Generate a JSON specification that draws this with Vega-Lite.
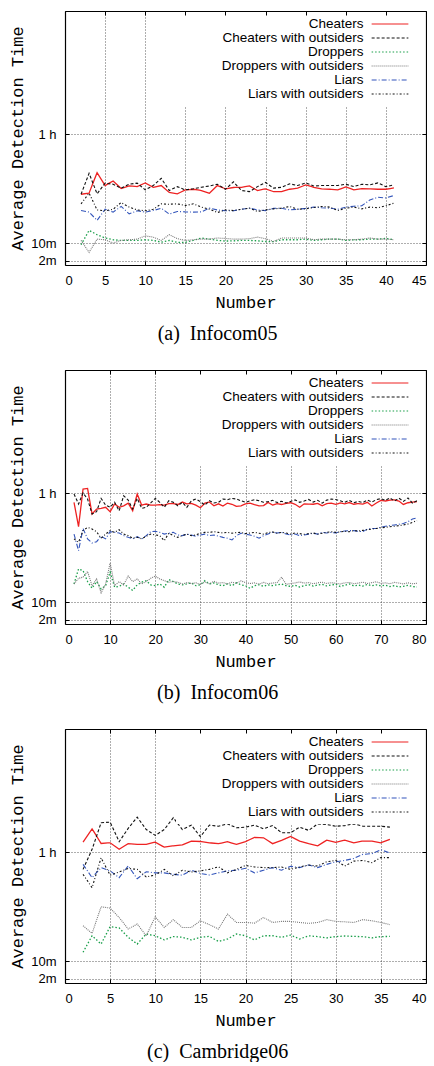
{
"$schema":"https://vega.github.io/schema/vega-lite/v6.json",
"padding":{"left":8,"top":10,"right":0,"bottom":0},
"spacing":25,
"config":{
 "view":{"stroke":null},
 "font":"Liberation Sans",
 "axis":{"labelFont":"Liberation Sans","labelFontSize":13,"labelColor":"#000","titleFont":"Liberation Mono","titleFontSize":17,"titleFontWeight":"normal","titleColor":"#000","domainColor":"#000","domainWidth":1.2,"tickColor":"#000","tickSize":-4,"tickWidth":1,"grid":true,"gridColor":"#333","gridDash":[1,2],"gridWidth":0.8},
 "axisBottom":{"labelPadding":13,"titlePadding":7},
 "axisLeft":{"labelPadding":13,"titlePadding":4},
 "legend":{"orient":"top-right","offset":1,"padding":5,"fillColor":"#fff","labelFont":"Liberation Sans","labelFontSize":13.5,"labelColor":"#000","labelAlign":"right","labelOffset":-33.5,"symbolOffset":202,"symbolType":"M-3,0L3,0","symbolSize":150,"symbolStrokeWidth":1.4,"rowPadding":-2.3,"zindex":1,"titleOrient":"right","titleFontSize":1,"titlePadding":9,"labelLimit":400},
 "title":{"font":"Liberation Serif","fontSize":20,"fontWeight":"normal","color":"#000","orient":"bottom","anchor":"middle","frame":"bounds","offset":14},
 "line":{"strokeWidth":1.1}
},
"datasets":{
"a1":[{"x":2,"y":32.5},{"x":3,"y":33.0},{"x":4,"y":42.4},{"x":5,"y":36.5},{"x":6,"y":38.6},{"x":7,"y":35.1},{"x":8,"y":36.3},{"x":9,"y":36.0},{"x":10,"y":37.7},{"x":11,"y":35.7},{"x":12,"y":36.5},{"x":13,"y":33.3},{"x":14,"y":32.7},{"x":15,"y":34.5},{"x":16,"y":34.8},{"x":17,"y":34.2},{"x":18,"y":33.0},{"x":19,"y":36.5},{"x":20,"y":35.0},{"x":21,"y":35.6},{"x":22,"y":35.7},{"x":23,"y":36.3},{"x":24,"y":34.2},{"x":25,"y":35.0},{"x":26,"y":33.7},{"x":27,"y":33.7},{"x":28,"y":34.8},{"x":29,"y":35.3},{"x":30,"y":36.8},{"x":31,"y":35.7},{"x":32,"y":35.0},{"x":33,"y":34.8},{"x":34,"y":34.5},{"x":35,"y":35.9},{"x":36,"y":34.5},{"x":37,"y":35.1},{"x":38,"y":35.0},{"x":39,"y":34.8},{"x":40,"y":34.8},{"x":41,"y":35.4}],
"a2":[{"x":2,"y":32.5},{"x":3,"y":42.1},{"x":4,"y":32.7},{"x":5,"y":37.6},{"x":6,"y":37.1},{"x":7,"y":35.3},{"x":8,"y":37.1},{"x":9,"y":37.6},{"x":10,"y":34.5},{"x":11,"y":36.5},{"x":12,"y":39.8},{"x":13,"y":34.2},{"x":14,"y":36.0},{"x":15,"y":34.5},{"x":16,"y":35.0},{"x":17,"y":35.7},{"x":18,"y":36.3},{"x":19,"y":37.1},{"x":20,"y":34.8},{"x":21,"y":38.2},{"x":22,"y":34.2},{"x":23,"y":33.7},{"x":24,"y":36.0},{"x":25,"y":37.9},{"x":26,"y":35.3},{"x":27,"y":35.7},{"x":28,"y":37.3},{"x":29,"y":36.5},{"x":30,"y":37.7},{"x":31,"y":36.3},{"x":32,"y":36.5},{"x":33,"y":36.5},{"x":34,"y":36.5},{"x":35,"y":37.1},{"x":36,"y":36.0},{"x":37,"y":37.1},{"x":38,"y":36.8},{"x":39,"y":37.7},{"x":40,"y":36.0},{"x":41,"y":36.8}],
"a3":[{"x":2,"y":9.3},{"x":3,"y":15.9},{"x":4,"y":13.9},{"x":5,"y":12.4},{"x":6,"y":11.6},{"x":7,"y":11.3},{"x":8,"y":11.3},{"x":9,"y":11.3},{"x":10,"y":11.6},{"x":11,"y":11.3},{"x":12,"y":10.5},{"x":13,"y":11.3},{"x":14,"y":10.4},{"x":15,"y":10.4},{"x":16,"y":11.3},{"x":17,"y":12.4},{"x":18,"y":11.9},{"x":19,"y":11.3},{"x":20,"y":11.0},{"x":21,"y":11.1},{"x":22,"y":11.3},{"x":23,"y":11.3},{"x":24,"y":11.1},{"x":25,"y":10.8},{"x":26,"y":10.7},{"x":27,"y":11.6},{"x":28,"y":11.6},{"x":29,"y":11.6},{"x":30,"y":11.9},{"x":31,"y":11.3},{"x":32,"y":11.6},{"x":33,"y":11.9},{"x":34,"y":11.9},{"x":35,"y":11.3},{"x":36,"y":11.6},{"x":37,"y":11.6},{"x":38,"y":11.9},{"x":39,"y":11.9},{"x":40,"y":12.2},{"x":41,"y":11.6}],
"a4":[{"x":2,"y":11.3},{"x":3,"y":5.8},{"x":4,"y":11.9},{"x":5,"y":11.6},{"x":6,"y":10.1},{"x":7,"y":11.3},{"x":8,"y":11.6},{"x":9,"y":11.9},{"x":10,"y":13.4},{"x":11,"y":12.8},{"x":12,"y":11.3},{"x":13,"y":13.9},{"x":14,"y":12.1},{"x":15,"y":11.3},{"x":16,"y":11.6},{"x":17,"y":11.9},{"x":18,"y":11.9},{"x":19,"y":12.4},{"x":20,"y":12.2},{"x":21,"y":11.9},{"x":22,"y":11.9},{"x":23,"y":12.1},{"x":24,"y":12.8},{"x":25,"y":12.1},{"x":26,"y":10.8},{"x":27,"y":12.4},{"x":28,"y":12.4},{"x":29,"y":12.4},{"x":30,"y":12.4},{"x":31,"y":11.6},{"x":32,"y":11.9},{"x":33,"y":11.9},{"x":34,"y":11.9},{"x":35,"y":11.6},{"x":36,"y":11.6},{"x":37,"y":11.9},{"x":38,"y":12.4},{"x":39,"y":11.9},{"x":40,"y":11.9},{"x":41,"y":11.6}],
"a5":[{"x":2,"y":25.0},{"x":3,"y":24.3},{"x":4,"y":20.5},{"x":5,"y":25.6},{"x":6,"y":24.3},{"x":7,"y":26.9},{"x":8,"y":23.5},{"x":9,"y":24.9},{"x":10,"y":24.3},{"x":11,"y":25.0},{"x":12,"y":26.1},{"x":13,"y":23.4},{"x":14,"y":24.6},{"x":15,"y":24.4},{"x":16,"y":24.3},{"x":17,"y":24.4},{"x":18,"y":26.1},{"x":19,"y":25.3},{"x":20,"y":24.9},{"x":21,"y":24.9},{"x":22,"y":25.6},{"x":23,"y":26.1},{"x":24,"y":25.3},{"x":25,"y":25.0},{"x":26,"y":26.0},{"x":27,"y":26.1},{"x":28,"y":25.3},{"x":29,"y":25.6},{"x":30,"y":26.0},{"x":31,"y":26.6},{"x":32,"y":26.3},{"x":33,"y":26.1},{"x":34,"y":25.6},{"x":35,"y":26.6},{"x":36,"y":27.0},{"x":37,"y":27.2},{"x":38,"y":29.9},{"x":39,"y":31.1},{"x":40,"y":30.8},{"x":41,"y":31.9}],
"a6":[{"x":2,"y":28.1},{"x":3,"y":33.0},{"x":4,"y":25.3},{"x":5,"y":24.9},{"x":6,"y":25.6},{"x":7,"y":28.7},{"x":8,"y":26.6},{"x":9,"y":25.3},{"x":10,"y":24.9},{"x":11,"y":25.6},{"x":12,"y":28.1},{"x":13,"y":27.9},{"x":14,"y":28.1},{"x":15,"y":27.3},{"x":16,"y":28.1},{"x":17,"y":26.6},{"x":18,"y":25.6},{"x":19,"y":24.1},{"x":20,"y":25.3},{"x":21,"y":25.0},{"x":22,"y":25.6},{"x":23,"y":26.1},{"x":24,"y":24.6},{"x":25,"y":25.3},{"x":26,"y":25.8},{"x":27,"y":26.1},{"x":28,"y":26.9},{"x":29,"y":25.6},{"x":30,"y":25.8},{"x":31,"y":26.4},{"x":32,"y":26.9},{"x":33,"y":26.6},{"x":34,"y":25.0},{"x":35,"y":26.1},{"x":36,"y":26.6},{"x":37,"y":25.8},{"x":38,"y":26.6},{"x":39,"y":26.3},{"x":40,"y":27.2},{"x":41,"y":28.4}],
"b1":[{"x":2,"y":55.9},{"x":3,"y":44.7},{"x":4,"y":62.0},{"x":5,"y":62.3},{"x":6,"y":50.5},{"x":7,"y":52.8},{"x":8,"y":53.1},{"x":9,"y":53.6},{"x":10,"y":51.6},{"x":11,"y":55.1},{"x":12,"y":53.6},{"x":13,"y":54.3},{"x":14,"y":55.5},{"x":15,"y":52.0},{"x":16,"y":59.7},{"x":17,"y":54.6},{"x":18,"y":55.1},{"x":19,"y":54.6},{"x":20,"y":54.6},{"x":21,"y":54.8},{"x":22,"y":54.6},{"x":23,"y":55.3},{"x":24,"y":55.3},{"x":25,"y":54.9},{"x":26,"y":56.0},{"x":27,"y":55.2},{"x":28,"y":55.4},{"x":29,"y":54.6},{"x":30,"y":53.4},{"x":31,"y":55.5},{"x":32,"y":56.0},{"x":33,"y":54.3},{"x":34,"y":55.2},{"x":35,"y":54.2},{"x":36,"y":55.5},{"x":37,"y":55.0},{"x":38,"y":54.0},{"x":39,"y":54.3},{"x":40,"y":55.2},{"x":41,"y":55.5},{"x":42,"y":54.8},{"x":43,"y":54.3},{"x":44,"y":54.4},{"x":45,"y":55.8},{"x":46,"y":54.6},{"x":47,"y":55.3},{"x":48,"y":54.9},{"x":49,"y":55.4},{"x":50,"y":55.7},{"x":51,"y":55.0},{"x":52,"y":53.6},{"x":53,"y":55.2},{"x":54,"y":55.1},{"x":55,"y":55.0},{"x":56,"y":55.4},{"x":57,"y":54.3},{"x":58,"y":55.3},{"x":59,"y":55.5},{"x":60,"y":55.0},{"x":61,"y":55.6},{"x":62,"y":55.2},{"x":63,"y":55.8},{"x":64,"y":55.0},{"x":65,"y":55.3},{"x":66,"y":55.1},{"x":67,"y":55.9},{"x":68,"y":54.2},{"x":69,"y":55.6},{"x":70,"y":56.8},{"x":71,"y":56.5},{"x":72,"y":56.9},{"x":73,"y":57.0},{"x":74,"y":56.5},{"x":75,"y":54.9},{"x":76,"y":55.7},{"x":77,"y":56.0},{"x":78,"y":56.2}],
"b2":[{"x":2,"y":59.7},{"x":3,"y":55.1},{"x":4,"y":60.2},{"x":5,"y":57.4},{"x":6,"y":50.5},{"x":7,"y":51.6},{"x":8,"y":57.7},{"x":9,"y":54.6},{"x":10,"y":53.6},{"x":11,"y":55.9},{"x":12,"y":52.0},{"x":13,"y":58.9},{"x":14,"y":56.9},{"x":15,"y":52.8},{"x":16,"y":57.7},{"x":17,"y":53.1},{"x":18,"y":53.6},{"x":19,"y":55.6},{"x":20,"y":57.7},{"x":21,"y":55.9},{"x":22,"y":53.6},{"x":23,"y":56.6},{"x":24,"y":55.9},{"x":25,"y":54.3},{"x":26,"y":55.9},{"x":27,"y":53.6},{"x":28,"y":56.6},{"x":29,"y":57.4},{"x":30,"y":56.2},{"x":31,"y":54.6},{"x":32,"y":56.6},{"x":33,"y":55.6},{"x":34,"y":55.9},{"x":35,"y":57.4},{"x":36,"y":57.1},{"x":37,"y":57.7},{"x":38,"y":57.4},{"x":39,"y":56.6},{"x":40,"y":55.9},{"x":41,"y":56.6},{"x":42,"y":57.1},{"x":43,"y":56.6},{"x":44,"y":55.9},{"x":45,"y":56.2},{"x":46,"y":56.8},{"x":47,"y":55.8},{"x":48,"y":56.4},{"x":49,"y":55.6},{"x":50,"y":56.3},{"x":51,"y":57.0},{"x":52,"y":55.9},{"x":53,"y":56.5},{"x":54,"y":57.2},{"x":55,"y":56.0},{"x":56,"y":56.8},{"x":57,"y":55.5},{"x":58,"y":56.9},{"x":59,"y":57.4},{"x":60,"y":57.2},{"x":61,"y":56.6},{"x":62,"y":55.9},{"x":63,"y":56.8},{"x":64,"y":55.7},{"x":65,"y":56.3},{"x":66,"y":55.8},{"x":67,"y":56.9},{"x":68,"y":56.0},{"x":69,"y":57.1},{"x":70,"y":57.6},{"x":71,"y":56.8},{"x":72,"y":57.9},{"x":73,"y":56.5},{"x":74,"y":57.8},{"x":75,"y":56.3},{"x":76,"y":57.9},{"x":77,"y":55.5},{"x":78,"y":56.6}],
"b3":[{"x":2,"y":18.4},{"x":3,"y":25.3},{"x":4,"y":24.5},{"x":5,"y":19.5},{"x":6,"y":16.4},{"x":7,"y":19.5},{"x":8,"y":16.1},{"x":9,"y":17.6},{"x":10,"y":23.8},{"x":11,"y":16.9},{"x":12,"y":17.3},{"x":13,"y":18.4},{"x":14,"y":16.9},{"x":15,"y":15.4},{"x":16,"y":18.0},{"x":17,"y":19.2},{"x":18,"y":19.9},{"x":19,"y":18.0},{"x":20,"y":17.6},{"x":21,"y":18.4},{"x":22,"y":16.9},{"x":23,"y":20.4},{"x":24,"y":19.5},{"x":25,"y":18.4},{"x":26,"y":18.0},{"x":27,"y":18.4},{"x":28,"y":18.9},{"x":29,"y":17.6},{"x":30,"y":18.0},{"x":31,"y":19.9},{"x":32,"y":18.4},{"x":33,"y":18.9},{"x":34,"y":18.0},{"x":35,"y":17.6},{"x":36,"y":18.4},{"x":37,"y":17.6},{"x":38,"y":18.9},{"x":39,"y":18.0},{"x":40,"y":17.6},{"x":41,"y":16.4},{"x":42,"y":17.6},{"x":43,"y":18.0},{"x":44,"y":17.3},{"x":45,"y":18.0},{"x":46,"y":17.6},{"x":47,"y":18.0},{"x":48,"y":18.4},{"x":49,"y":17.6},{"x":50,"y":17.3},{"x":51,"y":17.8},{"x":52,"y":17.0},{"x":53,"y":17.6},{"x":54,"y":18.1},{"x":55,"y":17.4},{"x":56,"y":17.9},{"x":57,"y":18.2},{"x":58,"y":17.5},{"x":59,"y":17.9},{"x":60,"y":18.3},{"x":61,"y":17.2},{"x":62,"y":17.8},{"x":63,"y":18.4},{"x":64,"y":17.5},{"x":65,"y":17.9},{"x":66,"y":17.4},{"x":67,"y":18.2},{"x":68,"y":17.6},{"x":69,"y":18.0},{"x":70,"y":17.5},{"x":71,"y":17.8},{"x":72,"y":17.2},{"x":73,"y":17.6},{"x":74,"y":17.0},{"x":75,"y":17.3},{"x":76,"y":17.8},{"x":77,"y":17.2},{"x":78,"y":17.0}],
"b4":[{"x":2,"y":18.4},{"x":3,"y":21.0},{"x":4,"y":21.5},{"x":5,"y":24.1},{"x":6,"y":17.6},{"x":7,"y":20.7},{"x":8,"y":14.3},{"x":9,"y":18.4},{"x":10,"y":28.0},{"x":11,"y":17.6},{"x":12,"y":19.5},{"x":13,"y":18.0},{"x":14,"y":22.0},{"x":15,"y":19.5},{"x":16,"y":20.7},{"x":17,"y":18.4},{"x":18,"y":19.5},{"x":19,"y":21.0},{"x":20,"y":22.0},{"x":21,"y":20.7},{"x":22,"y":19.9},{"x":23,"y":19.2},{"x":24,"y":19.5},{"x":25,"y":19.2},{"x":26,"y":18.4},{"x":27,"y":19.0},{"x":28,"y":18.6},{"x":29,"y":18.9},{"x":30,"y":18.2},{"x":31,"y":19.3},{"x":32,"y":18.5},{"x":33,"y":19.6},{"x":34,"y":18.8},{"x":35,"y":19.0},{"x":36,"y":18.4},{"x":37,"y":19.2},{"x":38,"y":18.7},{"x":39,"y":19.8},{"x":40,"y":19.0},{"x":41,"y":18.6},{"x":42,"y":18.9},{"x":43,"y":18.3},{"x":44,"y":19.1},{"x":45,"y":18.5},{"x":46,"y":18.8},{"x":47,"y":19.0},{"x":48,"y":21.5},{"x":49,"y":18.2},{"x":50,"y":18.6},{"x":51,"y":18.9},{"x":52,"y":19.3},{"x":53,"y":18.8},{"x":54,"y":19.0},{"x":55,"y":18.5},{"x":56,"y":18.9},{"x":57,"y":19.2},{"x":58,"y":18.6},{"x":59,"y":19.0},{"x":60,"y":18.7},{"x":61,"y":18.4},{"x":62,"y":18.9},{"x":63,"y":19.1},{"x":64,"y":18.5},{"x":65,"y":18.8},{"x":66,"y":19.2},{"x":67,"y":18.6},{"x":68,"y":19.0},{"x":69,"y":19.4},{"x":70,"y":18.7},{"x":71,"y":18.9},{"x":72,"y":18.5},{"x":73,"y":19.1},{"x":74,"y":18.8},{"x":75,"y":18.4},{"x":76,"y":18.9},{"x":77,"y":18.5},{"x":78,"y":18.7}],
"b5":[{"x":2,"y":41.3},{"x":3,"y":33.7},{"x":4,"y":43.9},{"x":5,"y":39.1},{"x":6,"y":37.2},{"x":7,"y":37.8},{"x":8,"y":40.3},{"x":9,"y":39.1},{"x":10,"y":42.4},{"x":11,"y":42.1},{"x":12,"y":41.8},{"x":13,"y":40.6},{"x":14,"y":39.8},{"x":15,"y":39.1},{"x":16,"y":40.1},{"x":17,"y":39.1},{"x":18,"y":40.6},{"x":19,"y":42.4},{"x":20,"y":42.6},{"x":21,"y":42.1},{"x":22,"y":41.3},{"x":23,"y":41.7},{"x":24,"y":42.1},{"x":25,"y":40.9},{"x":26,"y":40.6},{"x":27,"y":41.3},{"x":28,"y":40.9},{"x":29,"y":40.3},{"x":30,"y":40.9},{"x":31,"y":41.3},{"x":32,"y":40.6},{"x":33,"y":40.9},{"x":34,"y":40.3},{"x":35,"y":39.8},{"x":36,"y":39.4},{"x":37,"y":38.6},{"x":38,"y":40.6},{"x":39,"y":41.7},{"x":40,"y":41.3},{"x":41,"y":40.9},{"x":42,"y":40.3},{"x":43,"y":39.4},{"x":44,"y":40.6},{"x":45,"y":41.3},{"x":46,"y":42.1},{"x":47,"y":41.8},{"x":48,"y":42.1},{"x":49,"y":41.3},{"x":50,"y":40.9},{"x":51,"y":41.3},{"x":52,"y":40.6},{"x":53,"y":40.9},{"x":54,"y":41.3},{"x":55,"y":41.7},{"x":56,"y":41.3},{"x":57,"y":42.1},{"x":58,"y":41.8},{"x":59,"y":42.1},{"x":60,"y":41.8},{"x":61,"y":42.4},{"x":62,"y":42.7},{"x":63,"y":42.9},{"x":64,"y":42.9},{"x":65,"y":42.6},{"x":66,"y":42.4},{"x":67,"y":43.6},{"x":68,"y":43.9},{"x":69,"y":43.9},{"x":70,"y":44.4},{"x":71,"y":44.9},{"x":72,"y":45.2},{"x":73,"y":45.5},{"x":74,"y":45.8},{"x":75,"y":46.2},{"x":76,"y":47.0},{"x":77,"y":48.2},{"x":78,"y":48.8}],
"b6":[{"x":2,"y":39.1},{"x":3,"y":37.5},{"x":4,"y":42.9},{"x":5,"y":44.4},{"x":6,"y":43.6},{"x":7,"y":42.4},{"x":8,"y":39.4},{"x":9,"y":41.3},{"x":10,"y":42.9},{"x":11,"y":42.1},{"x":12,"y":43.3},{"x":13,"y":41.3},{"x":14,"y":40.6},{"x":15,"y":39.4},{"x":16,"y":39.8},{"x":17,"y":39.1},{"x":18,"y":40.3},{"x":19,"y":41.3},{"x":20,"y":40.9},{"x":21,"y":40.6},{"x":22,"y":38.3},{"x":23,"y":41.7},{"x":24,"y":40.6},{"x":25,"y":39.8},{"x":26,"y":40.6},{"x":27,"y":41.3},{"x":28,"y":40.6},{"x":29,"y":40.9},{"x":30,"y":41.7},{"x":31,"y":42.1},{"x":32,"y":42.1},{"x":33,"y":42.4},{"x":34,"y":42.1},{"x":35,"y":41.8},{"x":36,"y":42.1},{"x":37,"y":41.7},{"x":38,"y":42.0},{"x":39,"y":42.1},{"x":40,"y":41.5},{"x":41,"y":41.8},{"x":42,"y":42.1},{"x":43,"y":41.7},{"x":44,"y":41.3},{"x":45,"y":42.0},{"x":46,"y":42.3},{"x":47,"y":41.7},{"x":48,"y":42.1},{"x":49,"y":41.8},{"x":50,"y":41.3},{"x":51,"y":41.8},{"x":52,"y":41.5},{"x":53,"y":41.2},{"x":54,"y":41.5},{"x":55,"y":41.8},{"x":56,"y":41.3},{"x":57,"y":41.7},{"x":58,"y":42.1},{"x":59,"y":42.4},{"x":60,"y":42.1},{"x":61,"y":42.3},{"x":62,"y":42.6},{"x":63,"y":42.4},{"x":64,"y":42.9},{"x":65,"y":42.7},{"x":66,"y":43.0},{"x":67,"y":43.3},{"x":68,"y":43.6},{"x":69,"y":43.9},{"x":70,"y":44.2},{"x":71,"y":44.4},{"x":72,"y":44.7},{"x":73,"y":44.9},{"x":74,"y":45.2},{"x":75,"y":45.5},{"x":76,"y":45.9},{"x":77,"y":46.7},{"x":78,"y":47.5}],
"c1":[{"x":2,"y":64.7},{"x":3,"y":70.8},{"x":4,"y":64.1},{"x":5,"y":64.4},{"x":6,"y":61.4},{"x":7,"y":64.0},{"x":8,"y":63.7},{"x":9,"y":63.7},{"x":10,"y":64.7},{"x":11,"y":62.4},{"x":12,"y":63.0},{"x":13,"y":63.4},{"x":14,"y":65.2},{"x":15,"y":65.0},{"x":16,"y":64.4},{"x":17,"y":64.0},{"x":18,"y":64.9},{"x":19,"y":63.7},{"x":20,"y":64.9},{"x":21,"y":66.9},{"x":22,"y":66.7},{"x":23,"y":64.0},{"x":24,"y":65.5},{"x":25,"y":67.3},{"x":26,"y":65.2},{"x":27,"y":64.0},{"x":28,"y":63.0},{"x":29,"y":65.6},{"x":30,"y":64.6},{"x":31,"y":65.6},{"x":32,"y":64.4},{"x":33,"y":65.2},{"x":34,"y":65.2},{"x":35,"y":64.4},{"x":36,"y":66.0}],
"c2":[{"x":2,"y":52.2},{"x":3,"y":61.4},{"x":4,"y":73.6},{"x":5,"y":73.9},{"x":6,"y":64.9},{"x":7,"y":71.0},{"x":8,"y":76.2},{"x":9,"y":70.5},{"x":10,"y":67.8},{"x":11,"y":70.5},{"x":12,"y":75.9},{"x":13,"y":70.5},{"x":14,"y":72.5},{"x":15,"y":67.2},{"x":16,"y":72.5},{"x":17,"y":72.0},{"x":18,"y":73.1},{"x":19,"y":71.3},{"x":20,"y":71.6},{"x":21,"y":72.5},{"x":22,"y":70.8},{"x":23,"y":72.3},{"x":24,"y":69.0},{"x":25,"y":69.0},{"x":26,"y":71.6},{"x":27,"y":70.1},{"x":28,"y":73.1},{"x":29,"y":72.8},{"x":30,"y":72.0},{"x":31,"y":72.3},{"x":32,"y":73.1},{"x":33,"y":72.0},{"x":34,"y":72.0},{"x":35,"y":72.0},{"x":36,"y":71.6}],
"c3":[{"x":2,"y":14.1},{"x":3,"y":21.7},{"x":4,"y":17.9},{"x":5,"y":25.9},{"x":6,"y":25.3},{"x":7,"y":21.0},{"x":8,"y":17.9},{"x":9,"y":22.5},{"x":10,"y":21.7},{"x":11,"y":19.8},{"x":12,"y":21.3},{"x":13,"y":21.0},{"x":14,"y":19.8},{"x":15,"y":21.0},{"x":16,"y":21.4},{"x":17,"y":19.1},{"x":18,"y":20.2},{"x":19,"y":22.5},{"x":20,"y":21.7},{"x":21,"y":19.8},{"x":22,"y":21.7},{"x":23,"y":21.7},{"x":24,"y":21.0},{"x":25,"y":22.0},{"x":26,"y":20.2},{"x":27,"y":21.7},{"x":28,"y":21.3},{"x":29,"y":20.7},{"x":30,"y":21.3},{"x":31,"y":21.6},{"x":32,"y":21.4},{"x":33,"y":21.3},{"x":34,"y":20.7},{"x":35,"y":21.3},{"x":36,"y":21.4}],
"c4":[{"x":2,"y":26.3},{"x":3,"y":22.8},{"x":4,"y":35.0},{"x":5,"y":34.4},{"x":6,"y":30.1},{"x":7,"y":24.8},{"x":8,"y":27.1},{"x":9,"y":21.7},{"x":10,"y":30.4},{"x":11,"y":25.5},{"x":12,"y":29.1},{"x":13,"y":25.5},{"x":14,"y":25.5},{"x":15,"y":28.6},{"x":16,"y":26.8},{"x":17,"y":24.8},{"x":18,"y":31.6},{"x":19,"y":27.8},{"x":20,"y":27.8},{"x":21,"y":27.5},{"x":22,"y":30.1},{"x":23,"y":27.8},{"x":24,"y":28.3},{"x":25,"y":28.3},{"x":26,"y":27.8},{"x":27,"y":27.4},{"x":28,"y":27.8},{"x":29,"y":29.1},{"x":30,"y":28.3},{"x":31,"y":28.1},{"x":32,"y":27.8},{"x":33,"y":29.1},{"x":34,"y":28.6},{"x":35,"y":27.8},{"x":36,"y":26.8}],
"c5":[{"x":2,"y":54.5},{"x":3,"y":48.4},{"x":4,"y":53.0},{"x":5,"y":51.5},{"x":6,"y":48.4},{"x":7,"y":53.8},{"x":8,"y":47.9},{"x":9,"y":51.1},{"x":10,"y":50.6},{"x":11,"y":50.6},{"x":12,"y":49.9},{"x":13,"y":49.5},{"x":14,"y":51.8},{"x":15,"y":50.3},{"x":16,"y":49.6},{"x":17,"y":50.6},{"x":18,"y":51.5},{"x":19,"y":51.8},{"x":20,"y":52.7},{"x":21,"y":50.6},{"x":22,"y":51.8},{"x":23,"y":53.0},{"x":24,"y":51.8},{"x":25,"y":53.6},{"x":26,"y":53.0},{"x":27,"y":54.2},{"x":28,"y":53.0},{"x":29,"y":54.5},{"x":30,"y":55.7},{"x":31,"y":56.3},{"x":32,"y":57.2},{"x":33,"y":59.1},{"x":34,"y":59.4},{"x":35,"y":61.2},{"x":36,"y":59.7}],
"c6":[{"x":2,"y":49.9},{"x":3,"y":43.8},{"x":4,"y":57.5},{"x":5,"y":49.5},{"x":6,"y":51.0},{"x":7,"y":52.6},{"x":8,"y":52.2},{"x":9,"y":48.7},{"x":10,"y":49.6},{"x":11,"y":52.2},{"x":12,"y":49.2},{"x":13,"y":51.8},{"x":14,"y":51.0},{"x":15,"y":51.5},{"x":16,"y":52.2},{"x":17,"y":53.4},{"x":18,"y":50.6},{"x":19,"y":52.2},{"x":20,"y":54.0},{"x":21,"y":53.3},{"x":22,"y":53.0},{"x":23,"y":53.0},{"x":24,"y":53.3},{"x":25,"y":52.2},{"x":26,"y":53.3},{"x":27,"y":54.2},{"x":28,"y":53.7},{"x":29,"y":55.7},{"x":30,"y":56.3},{"x":31,"y":53.7},{"x":32,"y":56.0},{"x":33,"y":56.3},{"x":34,"y":55.3},{"x":35,"y":57.6},{"x":36,"y":57.6}]
},
"vconcat":[
{"width":361,"height":254,"title":{"text":"(a)\u00a0 Infocom05"},
 "layer":[
  {"encoding":{
    "x":{"field":"x","type":"quantitative","scale":{"domain":[0,45],"nice":false},"axis":{"values":[0,5,10,15,20,25,30,35,40,45],"title":"Number"}},
    "y":{"field":"y","type":"quantitative","scale":{"domain":[0,116.67],"nice":false},"axis":{"values":[2,10,60],"labelExpr":"datum.value == 60 ? '1 h' : datum.value == 10 ? '10m' : '2m'","title":"Average Detection Time"}}},
   "layer":[
    {"data":{"name":"a1"},"mark":{"type":"line","strokeWidth":1.3},"encoding":{"color":{"datum":"Cheaters","scale":{"domain":["Cheaters","Cheaters with outsiders","Droppers","Droppers with outsiders","Liars","Liars with outsiders"],"range":["#ee2222","#111111","#1a9f4a","#777777","#3355bb","#111111"]},"legend":{"title":" "}},"strokeDash":{"datum":"Cheaters","scale":{"domain":["Cheaters","Cheaters with outsiders","Droppers","Droppers with outsiders","Liars","Liars with outsiders"],"range":[[10,0],[3,2],[1.5,2],[1,1],[5,2,1,2],[2,2,1,2]]},"legend":{"title":" "}}}},
    {"data":{"name":"a2"},"mark":"line","encoding":{"color":{"datum":"Cheaters with outsiders"},"strokeDash":{"datum":"Cheaters with outsiders"}}},
    {"data":{"name":"a3"},"mark":{"type":"line","strokeWidth":1.3},"encoding":{"color":{"datum":"Droppers"},"strokeDash":{"datum":"Droppers"}}},
    {"data":{"name":"a4"},"mark":"line","encoding":{"color":{"datum":"Droppers with outsiders"},"strokeDash":{"datum":"Droppers with outsiders"}}},
    {"data":{"name":"a5"},"mark":"line","encoding":{"color":{"datum":"Liars"},"strokeDash":{"datum":"Liars"}}},
    {"data":{"name":"a6"},"mark":"line","encoding":{"color":{"datum":"Liars with outsiders"},"strokeDash":{"datum":"Liars with outsiders"}}}
   ]},
  {"data":{"name":"a1"},"mark":{"type":"line","opacity":0},"encoding":{
    "x":{"field":"x","type":"quantitative","axis":{"orient":"top","values":[0,5,10,15,20,25,30,35,40,45],"labels":false,"title":null,"grid":false,"zindex":2}},
    "y":{"field":"y","type":"quantitative","axis":{"orient":"right","values":[2,10,60],"labels":false,"title":null,"grid":false,"zindex":2}}}}
 ],
 "resolve":{"axis":{"x":"independent","y":"independent"}}
},
{"width":361,"height":254,"title":{"text":"(b)\u00a0 Infocom06"},
 "layer":[
  {"encoding":{
    "x":{"field":"x","type":"quantitative","scale":{"domain":[0,80],"nice":false},"axis":{"values":[0,10,20,30,40,50,60,70,80],"title":"Number"}},
    "y":{"field":"y","type":"quantitative","scale":{"domain":[0,116.67],"nice":false},"axis":{"values":[2,10,60],"labelExpr":"datum.value == 60 ? '1 h' : datum.value == 10 ? '10m' : '2m'","title":"Average Detection Time"}}},
   "layer":[
    {"data":{"name":"b1"},"mark":{"type":"line","strokeWidth":1.3},"encoding":{"color":{"datum":"Cheaters","scale":{"domain":["Cheaters","Cheaters with outsiders","Droppers","Droppers with outsiders","Liars","Liars with outsiders"],"range":["#ee2222","#111111","#1a9f4a","#777777","#3355bb","#111111"]},"legend":{"title":" "}},"strokeDash":{"datum":"Cheaters","scale":{"domain":["Cheaters","Cheaters with outsiders","Droppers","Droppers with outsiders","Liars","Liars with outsiders"],"range":[[10,0],[3,2],[1.5,2],[1,1],[5,2,1,2],[2,2,1,2]]},"legend":{"title":" "}}}},
    {"data":{"name":"b2"},"mark":"line","encoding":{"color":{"datum":"Cheaters with outsiders"},"strokeDash":{"datum":"Cheaters with outsiders"}}},
    {"data":{"name":"b3"},"mark":{"type":"line","strokeWidth":1.3},"encoding":{"color":{"datum":"Droppers"},"strokeDash":{"datum":"Droppers"}}},
    {"data":{"name":"b4"},"mark":"line","encoding":{"color":{"datum":"Droppers with outsiders"},"strokeDash":{"datum":"Droppers with outsiders"}}},
    {"data":{"name":"b5"},"mark":"line","encoding":{"color":{"datum":"Liars"},"strokeDash":{"datum":"Liars"}}},
    {"data":{"name":"b6"},"mark":"line","encoding":{"color":{"datum":"Liars with outsiders"},"strokeDash":{"datum":"Liars with outsiders"}}}
   ]},
  {"data":{"name":"b1"},"mark":{"type":"line","opacity":0},"encoding":{
    "x":{"field":"x","type":"quantitative","axis":{"orient":"top","values":[0,10,20,30,40,50,60,70,80],"labels":false,"title":null,"grid":false,"zindex":2}},
    "y":{"field":"y","type":"quantitative","axis":{"orient":"right","values":[2,10,60],"labels":false,"title":null,"grid":false,"zindex":2}}}}
 ],
 "resolve":{"axis":{"x":"independent","y":"independent"}}
},
{"width":361,"height":254,"title":{"text":"(c)\u00a0 Cambridge06"},
 "layer":[
  {"encoding":{
    "x":{"field":"x","type":"quantitative","scale":{"domain":[0,40],"nice":false},"axis":{"values":[0,5,10,15,20,25,30,35,40],"title":"Number"}},
    "y":{"field":"y","type":"quantitative","scale":{"domain":[0,116.67],"nice":false},"axis":{"values":[2,10,60],"labelExpr":"datum.value == 60 ? '1 h' : datum.value == 10 ? '10m' : '2m'","title":"Average Detection Time"}}},
   "layer":[
    {"data":{"name":"c1"},"mark":{"type":"line","strokeWidth":1.3},"encoding":{"color":{"datum":"Cheaters","scale":{"domain":["Cheaters","Cheaters with outsiders","Droppers","Droppers with outsiders","Liars","Liars with outsiders"],"range":["#ee2222","#111111","#1a9f4a","#777777","#3355bb","#111111"]},"legend":{"title":" "}},"strokeDash":{"datum":"Cheaters","scale":{"domain":["Cheaters","Cheaters with outsiders","Droppers","Droppers with outsiders","Liars","Liars with outsiders"],"range":[[10,0],[3,2],[1.5,2],[1,1],[5,2,1,2],[2,2,1,2]]},"legend":{"title":" "}}}},
    {"data":{"name":"c2"},"mark":"line","encoding":{"color":{"datum":"Cheaters with outsiders"},"strokeDash":{"datum":"Cheaters with outsiders"}}},
    {"data":{"name":"c3"},"mark":{"type":"line","strokeWidth":1.3},"encoding":{"color":{"datum":"Droppers"},"strokeDash":{"datum":"Droppers"}}},
    {"data":{"name":"c4"},"mark":"line","encoding":{"color":{"datum":"Droppers with outsiders"},"strokeDash":{"datum":"Droppers with outsiders"}}},
    {"data":{"name":"c5"},"mark":"line","encoding":{"color":{"datum":"Liars"},"strokeDash":{"datum":"Liars"}}},
    {"data":{"name":"c6"},"mark":"line","encoding":{"color":{"datum":"Liars with outsiders"},"strokeDash":{"datum":"Liars with outsiders"}}}
   ]},
  {"data":{"name":"c1"},"mark":{"type":"line","opacity":0},"encoding":{
    "x":{"field":"x","type":"quantitative","axis":{"orient":"top","values":[0,5,10,15,20,25,30,35,40],"labels":false,"title":null,"grid":false,"zindex":2}},
    "y":{"field":"y","type":"quantitative","axis":{"orient":"right","values":[2,10,60],"labels":false,"title":null,"grid":false,"zindex":2}}}}
 ],
 "resolve":{"axis":{"x":"independent","y":"independent"}}
}
],
"resolve":{"scale":{"x":"independent","y":"independent","color":"independent","strokeDash":"independent"},"legend":{"color":"independent","strokeDash":"independent"}}
}
